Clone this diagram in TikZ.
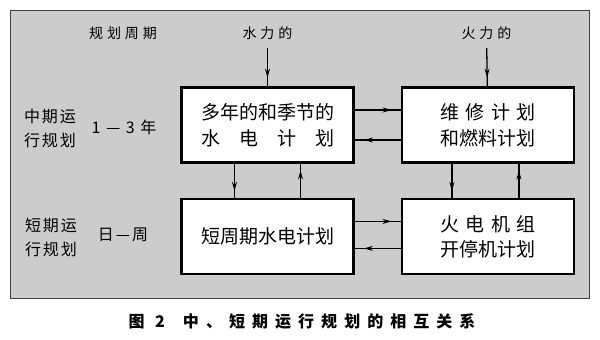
\documentclass[tikz,border=0pt]{standalone}
\usepackage{fontspec}
\setmainfont{Noto Sans CJK SC}
\usepackage{tikz}
\usetikzlibrary{arrows.meta, positioning, decorations.markings}

\begin{document}
\begin{tikzpicture}[x=1pt, y=-1pt,
  plan/.style={draw, line width=2.4pt, fill=white, rectangle, minimum width=172pt, minimum height=75pt,
    align=center, font=\fontsize{19}{26}\selectfont},
  side/.style={align=center, font=\fontsize{16}{24}\selectfont\addfontfeatures{LetterSpace=12}},
  head/.style={font=\fontsize{14}{18}\selectfont\addfontfeatures{LetterSpace=28}},
  flow/.style={line width=1.3pt, decoration={markings,
    mark=at position 0.8 with {\arrow{Stealth[length=9pt, width=5pt]}}}, postaction={decorate}}]
\useasboundingbox (0,0) rectangle (600,340);
\draw[fill=black!20, draw=black!75, line width=0.8pt] (10,10) rectangle (589,298);

% plan boxes
\node[plan] (hydlong) at (267.5,125) {多年的和季节的\\\makebox[7em][s]{水\hfil 电\hfil 计\hfil 划}};
\node[plan, right=46pt of hydlong] (thermlong) {\makebox[5em][s]{维\hfil 修\hfil 计\hfil 划}\\和燃料计划};
\node[plan, below=34pt of hydlong] (hydshort) {短周期水电计划};
\node[plan, below=34pt of thermlong, font=\fontsize{19}{25}\selectfont] (thermshort) {\makebox[5em][s]{火\hfil 电\hfil 机\hfil 组}\\开停机计划};

% labels
\node[head] (period) at (123,33) {规划周期};
\node[head] (hydin) at (267.5,33) {水力的};
\node[head] (thermin) at (486.5,33) {火力的};
\node[side] (midterm) at (50,128) {中期运\\行规划};
\node[side] (midspan) at (124,127) {1 — 3 年};
\node[side] (shortterm) at (51,237) {短期运\\行规划};
\node[side] (shortspan) at (123,235) {日—周};

% connectors
\draw[flow, shorten <=5pt] (hydin) -- (hydlong);
\draw[flow, shorten <=5pt] (thermin) -- (thermlong);
\draw[flow] ([yshift=15pt]hydlong.east) -- ([yshift=15pt]thermlong.west);
\draw[flow] ([yshift=-15pt]thermlong.west) -- ([yshift=-15pt]hydlong.east);
\draw[flow] ([yshift=15pt]hydshort.east) -- ([yshift=15pt]thermshort.west);
\draw[flow] ([yshift=-12pt]thermshort.west) -- ([yshift=-12pt]hydshort.east);
\draw[flow] ([xshift=-33pt]hydlong.south) -- ([xshift=-33pt]hydshort.north);
\draw[flow] ([xshift=33pt]hydshort.north) -- ([xshift=33pt]hydlong.south);
\draw[flow] ([xshift=-36pt]thermlong.south) -- ([xshift=-36pt]thermshort.north);
\draw[flow] ([xshift=31pt]thermshort.north) -- ([xshift=31pt]thermlong.south);

% caption
\node[font=\fontsize{16}{20}\selectfont\bfseries\addfontfeatures{LetterSpace=44}] (caption) at (302,321)
  {图 2\hspace{18pt}中、短期运行规划的相互关系};
\end{tikzpicture}
\end{document}
